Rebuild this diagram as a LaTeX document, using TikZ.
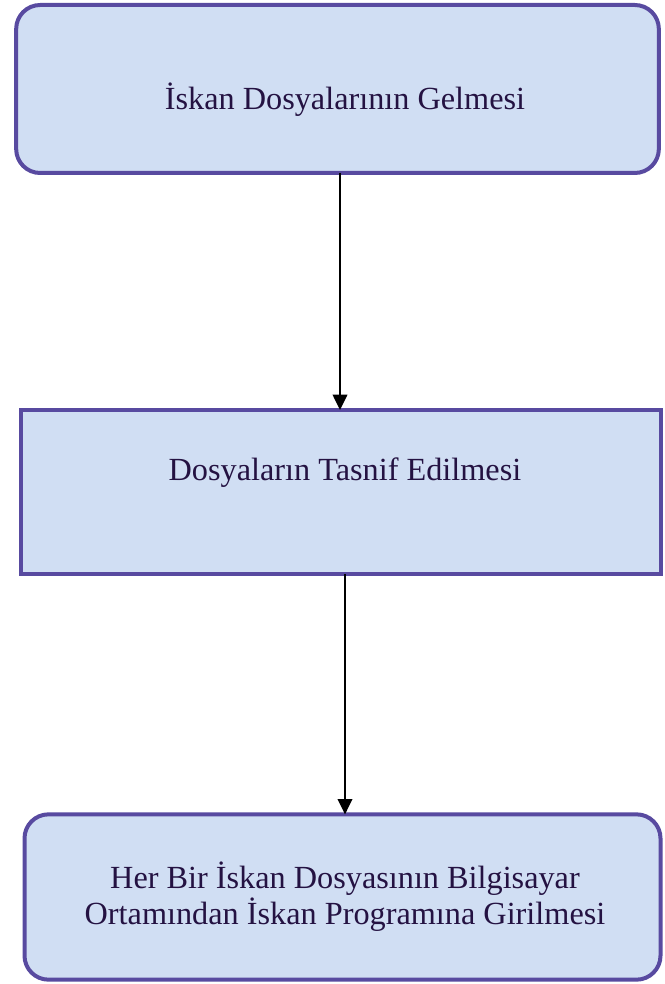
\documentclass[tikz,border=0pt]{standalone}
\usepackage{fontspec}
\setmainfont{Liberation Serif}
\usetikzlibrary{arrows.meta}
\definecolor{boxfill}{RGB}{208,222,243}
\definecolor{boxline}{RGB}{88,74,160}
\definecolor{boxtext}{RGB}{36,18,66}
\tikzset{
  stepbox/.style={draw=boxline, fill=boxfill, line width=3pt, inner sep=0pt, outer sep=0pt},
  roundbox/.style={stepbox, rounded corners=18pt},
  label text/.style={text=boxtext, font=\fontsize{24.2}{27}\selectfont, align=center, inner sep=0pt},
  flow/.style={draw=black, line width=1.1pt, -{Triangle[length=11.5pt,width=11pt]}}
}
\begin{document}
\begin{tikzpicture}[x=0.75pt,y=-0.75pt]
  \useasboundingbox (0,0) rectangle (664,984);
  % process boxes
  \node[roundbox, minimum width=482pt, minimum height=126pt] (b1) at (337.5,89) {};
  \node[stepbox,  minimum width=480pt, minimum height=123pt] (b2) at (340.5,492) {};
  \node[roundbox, minimum width=477pt, minimum height=124pt] (b3) at (342.5,897) {};
  % captions
  \node[label text] (t1) at (345,100) {İskan Dosyalarının Gelmesi};
  \node[label text] (t2) at (345,473) {Dosyaların Tasnif Edilmesi};
  \node[label text] (t3) at (345,897) {Her Bir İskan Dosyasının Bilgisayar\\Ortamından İskan Programına Girilmesi};
  % connectors
  \coordinate (c1) at (340,0);
  \coordinate (c2) at (345,0);
  \draw[flow] (b1.south -| c1) -- (b2.north -| c1);
  \draw[flow] (b2.south -| c2) -- (b3.north -| c2);
\end{tikzpicture}
\end{document}
